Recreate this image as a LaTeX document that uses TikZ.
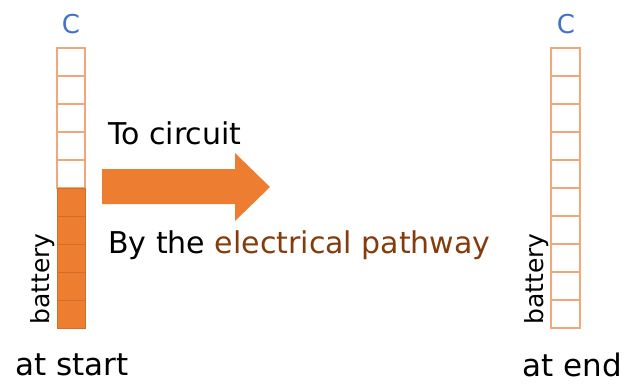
\documentclass[tikz,border=0pt]{standalone}
\usepackage{fontspec}
\setmainfont{DejaVu Sans}
\definecolor{orng}{HTML}{ED7D31}
\definecolor{lorng}{HTML}{F0A878}
\definecolor{brwn}{HTML}{843C0C}
\definecolor{blu}{HTML}{4472C4}
\begin{document}
\begin{tikzpicture}[x=1pt,y=-1pt,
  cell/.style={draw=lorng,line width=1.2pt},
  fullcell/.style={draw=orng!88!black,fill=orng,line width=0.8pt},
  lbl/.style={font=\fontsize{30}{34}\selectfont,inner sep=0pt},
  endlbl/.style={font=\fontsize{31}{35}\selectfont,inner sep=0pt},
  ctext/.style={font=\fontsize{26}{30}\selectfont,text=blu,inner sep=0pt},
  batt/.style={font=\fontsize{25}{28}\selectfont,rotate=90,inner sep=0pt}]
\useasboundingbox (0,0) rectangle (635,389);
% left bar
\foreach \i in {0,...,4}{
  \draw[cell] (57,48+28*\i) rectangle (85,76+28*\i);}
\foreach \i in {5,...,9}{
  \draw[fullcell] (57,48+28*\i) rectangle (85,76+28*\i);}
% right bar
\foreach \i in {0,...,9}{
  \draw[cell] (551,48+28*\i) rectangle (580,76+28*\i);}
\node[ctext] (cl) at (71,24) {C};
\node[ctext] (cr) at (566,24) {C};
\node[batt] (bl) at (43,279) {battery};
\node[batt] (br) at (537,279) {battery};
\node[endlbl] (ls) at (72,365) {at start};
\node[endlbl] (le) at (572,365) {at end};
% arrow
\fill[orng] (102,169) -- (235,169) -- (235,153) -- (270,187) -- (235,221) -- (235,204) -- (102,204) -- cycle;
\node[lbl,anchor=west] (tc) at (108,133) {To circuit};
\node[lbl,anchor=west] (bt) at (108,245) {By the \textcolor{brwn}{electrical pathway}};
\end{tikzpicture}
\end{document}
